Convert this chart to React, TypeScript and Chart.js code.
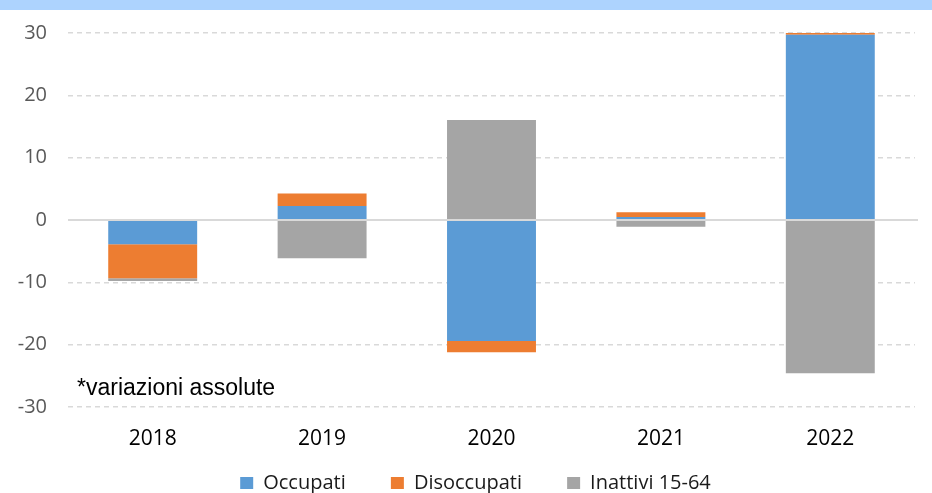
import React, { useEffect, useRef } from "react";
import { Chart, registerables } from "chart.js";

Chart.register(...registerables);

const categories = ["2018", "2019", "2020", "2021", "2022"];
const occupati = [-3.9, 2.25, -19.4, 0.5, 29.7];
const disoccupati = [-5.45, 2.0, -1.8, 0.75, 0.45];
const inattivi = [-0.45, -6.15, 16.05, -1.1, -24.6];
const seriesNames = ["Occupati", "Disoccupati", "Inattivi 15-64"];
const yTicks = [-30, -20, -10, 0, 10, 20, 30];
const noteText = "*variazioni assolute";

const colors = ["#5B9BD5", "#ED7D31", "#A5A5A5"];

const bandPlugin = {
  id: "band",
  beforeDraw(chart: any) {
    const ctx = chart.ctx;
    ctx.save();
    ctx.fillStyle = "#ADD3FE";
    ctx.fillRect(0, 0, chart.width, 10);
    ctx.restore();
  },
};

const legendShiftPlugin = {
  id: "legendShift",
  afterLayout(chart: any) {
    const lg = chart.legend;
    if (lg) {
      lg.left += 18;
      lg.right += 18;
    }
  },
};

const zeroLinePlugin = {
  id: "zeroLine",
  afterDatasetsDraw(chart: any) {
    const { ctx, chartArea, scales } = chart;
    const y = scales.y.getPixelForValue(0);
    ctx.save();
    ctx.strokeStyle = "#D9D9D9";
    ctx.lineWidth = 2;
    ctx.beginPath();
    ctx.moveTo(chartArea.left, y);
    ctx.lineTo(chartArea.right + 3, y);
    ctx.stroke();
    ctx.restore();
  },
};

const notePlugin = {
  id: "note",
  afterDraw(chart: any) {
    const { ctx, chartArea, scales } = chart;
    ctx.save();
    ctx.font = '23px "Liberation Sans", Arial, sans-serif';
    ctx.fillStyle = "#000000";
    ctx.textBaseline = "alphabetic";
    ctx.textAlign = "left";
    ctx.fillText(noteText, chartArea.left + 9, scales.y.getPixelForValue(-28.15));
    ctx.restore();
  },
};

export default function App() {
  const ref = useRef<HTMLCanvasElement>(null);

  useEffect(() => {
    document.body.style.margin = "0";
    const values = [occupati, disoccupati, inattivi];
    const chart = new Chart(ref.current as HTMLCanvasElement, {
      type: "bar",
      data: {
        labels: categories,
        datasets: seriesNames.map((name, i) => ({
          label: name,
          data: values[i],
          backgroundColor: colors[i],
          borderWidth: 0,
          categoryPercentage: 1,
          barPercentage: 0.525,
        })),
      },
      options: {
        responsive: false,
        animation: false,
        layout: { padding: { top: 32, right: 17, left: 0, bottom: 0 } },
        scales: {
          x: {
            stacked: true,
            grid: { display: false, drawTicks: false },
            border: { display: false },
            ticks: {
              color: "#000000",
              font: { family: '"Open Sans", sans-serif', size: 21 },
              padding: 19,
            },
            afterFit(scale: any) {
              scale.height = 52;
            },
          },
          y: {
            stacked: true,
            min: -30,
            max: 30,
            afterBuildTicks(scale: any) {
              scale.ticks = yTicks.map((v) => ({ value: v }));
            },
            grid: {
              drawTicks: false,
              color: (c: any) => (c.tick && c.tick.value === 0 ? "rgba(0,0,0,0)" : "#D9D9D9"),
              lineWidth: 1.5,
            },
            border: { display: false, dash: [5, 4] },
            ticks: {
              color: "#595959",
              font: { family: '"Open Sans", sans-serif', size: 20 },
              padding: 21,
            },
            afterFit(scale: any) {
              scale.width = 68;
            },
          },
        },
        plugins: {
          legend: {
            position: "bottom",
            labels: {
              color: "#1a1a1a",
              font: { family: '"Open Sans", sans-serif', size: 20 },
              boxWidth: 13,
              boxHeight: 12,
              padding: 14,
              generateLabels(chart: any) {
                const items = Chart.defaults.plugins.legend.labels.generateLabels(chart);
                return items.map((it: any, i: number) => ({
                  ...it,
                  text: i < items.length - 1 ? it.text + "      " : it.text,
                  lineWidth: 0,
                }));
              },
            },
          },
          tooltip: { enabled: false },
        },
      },
      plugins: [bandPlugin, legendShiftPlugin, zeroLinePlugin, notePlugin],
    });
    return () => chart.destroy();
  }, []);

  return (
    <div style={{ width: 932, height: 493, overflow: "hidden", position: "relative", background: "#fff" }}>
      <canvas ref={ref} width={932} height={503} style={{ display: "block" }} />
    </div>
  );
}
